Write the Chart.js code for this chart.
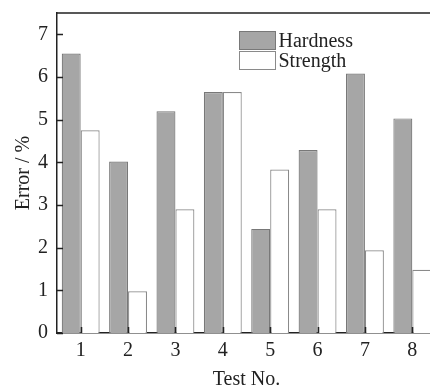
<!DOCTYPE html>
<html>
<head>
<meta charset="utf-8">
<script src="https://cdn.jsdelivr.net/npm/chart.js@4"></script>
<style>
  html, body { margin: 0; padding: 0; background: #fff; overflow: hidden; width: 430px; height: 388px; }
  #wrap { width: 430px; height: 388px; overflow: hidden; }
</style>
</head>
<body>
<div id="wrap"><canvas id="errChart" width="440" height="388"></canvas></div>
<script>
// test numbers and error values (%)
const testNo = ["1", "2", "3", "4", "5", "6", "7", "8"];
const hardness = [6.55, 4.02, 5.2, 5.65, 2.44, 4.29, 6.08, 5.03];
const strength = [4.75, 0.98, 2.9, 5.65, 3.83, 2.9, 1.94, 1.48];
const yTicks = [0, 1, 2, 3, 4, 5, 6, 7];

const FONT = "'Liberation Serif', 'Times New Roman', serif";
const INK = "#222";

// inward tick marks, top frame line and the boxed legend
const frameAndLegend = {
  id: "frameAndLegend",
  afterDatasetsDraw(chart) {
    const { ctx, chartArea: a, scales } = chart;
    ctx.save();
    ctx.strokeStyle = INK;
    ctx.lineWidth = 1.5;
    ctx.beginPath();
    ctx.moveTo(a.left, a.top);
    ctx.lineTo(a.right, a.top);
    yTicks.forEach(v => {
      const y = Math.round(scales.y.getPixelForValue(v)) + 0.5;
      ctx.moveTo(a.left, y);
      ctx.lineTo(a.left + 6, y);
    });
    testNo.forEach((t, i) => {
      const x = Math.round(scales.x.getPixelForValue(i)) + 0.5;
      ctx.moveTo(x, a.bottom);
      ctx.lineTo(x, a.bottom - 6);
    });
    ctx.stroke();

    // legend
    ctx.font = "20px " + FONT;
    ctx.textBaseline = "middle";
    chart.data.datasets.forEach((ds, i) => {
      const bx = 239.5, by = 31.5 + i * 20;
      ctx.fillStyle = ds.backgroundColor;
      ctx.fillRect(bx, by, 36, 18);
      ctx.strokeStyle = ds.borderColor;
      ctx.lineWidth = 1;
      ctx.strokeRect(bx, by, 36, 18);
      ctx.fillStyle = INK;
      ctx.fillText(ds.label, bx + 39, by + 10);
    });
    ctx.restore();
  }
};

new Chart(document.getElementById("errChart"), {
  type: "bar",
  data: {
    labels: testNo,
    datasets: [
      {
        label: "Hardness",
        data: hardness,
        backgroundColor: "#a6a6a6",
        borderColor: "#787878",
        borderWidth: 1.2,
        categoryPercentage: 0.8,
        barPercentage: 1.0
      },
      {
        label: "Strength",
        data: strength,
        backgroundColor: "#ffffff",
        borderColor: "#8a8a8a",
        borderWidth: 1.2,
        categoryPercentage: 0.8,
        barPercentage: 1.0
      }
    ]
  },
  options: {
    responsive: false,
    animation: false,
    devicePixelRatio: 1,
    layout: { padding: { top: 13, right: 4, left: 0, bottom: 0 } },
    plugins: { legend: { display: false }, tooltip: { enabled: false } },
    scales: {
      x: {
        grid: { display: false, drawTicks: false },
        border: { display: true, color: INK, width: 1.5 },
        ticks: { color: INK, font: { family: FONT, size: 20 }, padding: 6 },
        title: { display: true, text: "Test No.", color: INK, font: { family: FONT, size: 20 }, padding: { top: 0, bottom: -4 } },
        afterFit(scale) { scale.height = 55; scale.paddingLeft = 0; scale.paddingRight = 0; }
      },
      y: {
        min: 0,
        max: 7.5,
        afterBuildTicks(scale) { scale.ticks = yTicks.map(v => ({ value: v })); },
        grid: { display: false, drawTicks: false },
        border: { display: true, color: INK, width: 1.5 },
        ticks: { color: INK, font: { family: FONT, size: 20 }, padding: 9 },
        title: { display: true, text: "Error / %", color: INK, font: { family: FONT, size: 20 }, padding: { top: 12, bottom: 0 } },
        afterFit(scale) { scale.width = 57; scale.paddingTop = 0; scale.paddingBottom = 0; }
      }
    }
  },
  plugins: [frameAndLegend]
});
</script>
</body>
</html>
